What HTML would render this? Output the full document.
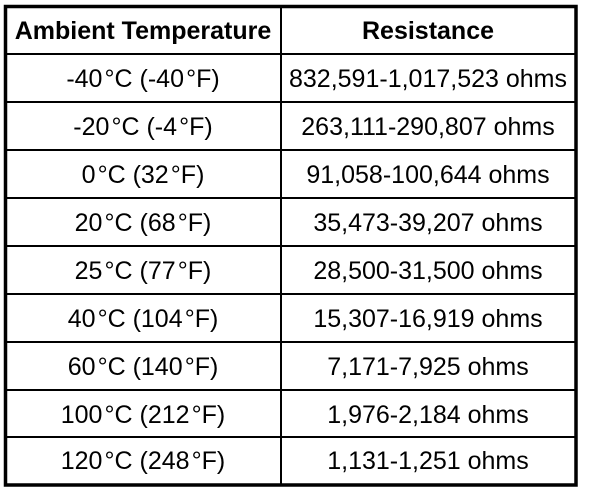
<!DOCTYPE html>
<html><head><meta charset="utf-8"><style>
html,body{margin:0;padding:0;background:#fff;}
svg{display:block;}
text{font-family:"Liberation Sans",Arial,sans-serif;font-size:25px;fill:#000;text-anchor:middle;}
.h{font-weight:bold;}
</style></head><body>
<svg width="608" height="492" viewBox="0 0 608 492">
<rect x="5.5" y="6.5" width="570.5" height="478.5" fill="none" stroke="#000" stroke-width="3.5"/>
<line x1="6" y1="54" x2="576" y2="54" stroke="#000" stroke-width="2"/>
<line x1="281" y1="6" x2="281" y2="485" stroke="#000" stroke-width="2"/>
<g stroke="#000" stroke-width="2">
<line x1="6" y1="102" x2="576" y2="102"/>
<line x1="6" y1="150" x2="576" y2="150"/>
<line x1="6" y1="198" x2="576" y2="198"/>
<line x1="6" y1="246" x2="576" y2="246"/>
<line x1="6" y1="294" x2="576" y2="294"/>
<line x1="6" y1="342" x2="576" y2="342"/>
<line x1="6" y1="390" x2="576" y2="390"/>
<line x1="6" y1="437" x2="576" y2="437"/>
</g>
<text class="h" x="143" y="39">Ambient Temperature</text>
<text class="h" x="428" y="39">Resistance</text>
<text x="143" y="87">-40&#8202;°C (-40&#8202;°F)</text><text x="428" y="87">832,591-1,017,523 ohms</text>
<text x="143" y="135">-20&#8202;°C (-4&#8202;°F)</text><text x="428" y="135">263,111-290,807 ohms</text>
<text x="143" y="183">0&#8202;°C (32&#8202;°F)</text><text x="428" y="183">91,058-100,644 ohms</text>
<text x="143" y="231">20&#8202;°C (68&#8202;°F)</text><text x="428" y="231">35,473-39,207 ohms</text>
<text x="143" y="279">25&#8202;°C (77&#8202;°F)</text><text x="428" y="279">28,500-31,500 ohms</text>
<text x="143" y="327">40&#8202;°C (104&#8202;°F)</text><text x="428" y="327">15,307-16,919 ohms</text>
<text x="143" y="375">60&#8202;°C (140&#8202;°F)</text><text x="428" y="375">7,171-7,925 ohms</text>
<text x="143" y="423">100&#8202;°C (212&#8202;°F)</text><text x="428" y="423">1,976-2,184 ohms</text>
<text x="143" y="469">120&#8202;°C (248&#8202;°F)</text><text x="428" y="469">1,131-1,251 ohms</text>
</svg>
</body></html>
